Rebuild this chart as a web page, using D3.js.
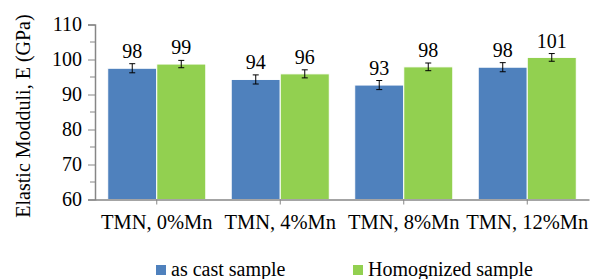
<!DOCTYPE html>
<html>
<head>
<meta charset="utf-8">
<script src="https://cdn.jsdelivr.net/npm/d3@7"></script>
<style>
  body { margin: 0; background: #fff; }
  svg text { font-family: "Liberation Serif", "Times New Roman", serif; fill: #000; }
</style>
</head>
<body>
<svg id="chart" width="594" height="279"></svg>
<script>
// data
var categories = ["TMN, 0%Mn", "TMN, 4%Mn", "TMN, 8%Mn", "TMN, 12%Mn"];
var seriesNames = ["as cast sample", "Homognized sample"];
var castValues = [97.5, 94.3, 92.7, 97.8];
var homValues = [98.7, 95.9, 97.9, 100.6];
var castErr = [1.3, 1.3, 1.3, 1.3];
var homErr = [1.05, 1.15, 1.1, 1.1];
var castLabels = ["98", "94", "93", "98"];
var homLabels = ["99", "96", "98", "101"];
var yTicks = [60, 70, 80, 90, 100, 110];

var colors = ["#4F81BD", "#92D050"];
var axisColor = "#868686";
var serif = '"Liberation Serif", "Times New Roman", serif';

var margin = {top: 24.5, left: 95, bottom: 79.5, right: 5};
var width = 594 - margin.left - margin.right;
var height = 279 - margin.top - margin.bottom;

var svg = d3.select("#chart");
var g = svg.append("g")
    .attr("transform", "translate(" + margin.left + "," + margin.top + ")");

var x = d3.scaleBand().domain(categories).range([0, width]).paddingInner(0.206).paddingOuter(0.103);
var xs = d3.scaleBand().domain([0, 1]).range([0, x.bandwidth()]);
var y = d3.scaleLinear().domain([60, 110]).range([height, 0]);

// series table
var series = [
  {values: castValues, err: castErr, labels: castLabels},
  {values: homValues, err: homErr, labels: homLabels}
];

// minor ticks
var minor = d3.range(65, 110, 10);
g.selectAll(".minor").data(minor).enter().append("line")
    .attr("x1", -5).attr("x2", 0)
    .attr("y1", d => y(d)).attr("y2", d => y(d))
    .attr("stroke", axisColor).attr("stroke-width", 1);

// y axis
var yAxis = g.append("g")
    .call(d3.axisLeft(y).tickValues(yTicks).tickSize(7).tickPadding(6));
yAxis.attr("font-family", serif);
yAxis.select(".domain").attr("stroke", axisColor).attr("stroke-width", 1.5);
yAxis.selectAll(".tick line").attr("stroke", axisColor);
yAxis.selectAll(".tick text")
    .style("font-family", serif)
    .style("font-size", "20px").attr("fill", "#000");

// bars
series.forEach(function(s, si) {
  g.selectAll(".bar" + si).data(categories).enter().append("rect")
      .attr("x", d => x(d) + xs(si))
      .attr("y", (d, i) => y(s.values[i]))
      .attr("width", xs.bandwidth())
      .attr("height", (d, i) => height - y(s.values[i]))
      .attr("fill", colors[si])
      .attr("stroke", "#fff").attr("stroke-width", 1);

  // error bars
  var eb = g.selectAll(".err" + si).data(categories).enter().append("g");
  var cx = d => x(d) + xs(si) + xs.bandwidth() / 2;
  eb.append("line")
      .attr("x1", cx).attr("x2", cx)
      .attr("y1", (d, i) => y(s.values[i] + s.err[i]))
      .attr("y2", (d, i) => y(s.values[i] - s.err[i]))
      .attr("stroke", "#000").attr("stroke-width", 1);
  [1, -1].forEach(function(sign) {
    eb.append("line")
        .attr("x1", d => cx(d) - 3).attr("x2", d => cx(d) + 3)
        .attr("y1", (d, i) => y(s.values[i] + sign * s.err[i]))
        .attr("y2", (d, i) => y(s.values[i] + sign * s.err[i]))
        .attr("stroke", "#000").attr("stroke-width", 1);
  });

  // value labels
  g.selectAll(".lab" + si).data(categories).enter().append("text")
      .attr("x", cx)
      .attr("y", (d, i) => y(s.values[i] + s.err[i]) - 6)
      .attr("text-anchor", "middle")
      .style("font-family", serif)
      .style("font-size", "20px")
      .text((d, i) => s.labels[i]);
});

// x axis
var xAxis = g.append("g")
    .attr("transform", "translate(0," + height + ")")
    .call(d3.axisBottom(x).tickSize(5).tickPadding(10).tickSizeOuter(0));
xAxis.attr("font-family", serif);
xAxis.select(".domain").attr("stroke", axisColor).attr("stroke-width", 1.5);
xAxis.selectAll(".tick line").attr("stroke", axisColor);
xAxis.selectAll(".tick text")
    .style("font-family", serif)
    .style("font-size", "20.5px").attr("fill", "#000");

// y axis title
svg.append("text")
    .attr("transform", "translate(30,116) rotate(-90)")
    .attr("text-anchor", "middle")
    .style("font-family", serif)
    .style("font-size", "20px")
    .text("Elastic Modduli, E (GPa)");

// legend
var legendX = [156, 353];
seriesNames.forEach(function(name, i) {
  svg.append("rect")
      .attr("x", legendX[i]).attr("y", 265)
      .attr("width", 10).attr("height", 10)
      .attr("fill", colors[i]);
  svg.append("text")
      .attr("x", legendX[i] + 15).attr("y", 276)
      .style("font-family", serif)
      .style("font-size", "20px")
      .text(name);
});
</script>
</body>
</html>
